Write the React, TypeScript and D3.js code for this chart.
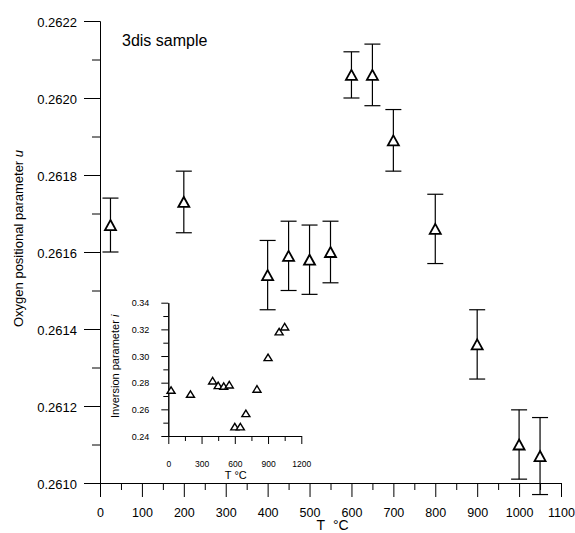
import React, { useEffect, useRef } from 'react'
import * as d3 from 'd3'

// main panel: oxygen positional parameter u vs annealing temperature
const temps = [25, 200, 400, 450, 500, 550, 600, 650, 700, 800, 900, 1000, 1050]
const uValues = [0.26167, 0.26173, 0.26154, 0.26159, 0.26158, 0.2616, 0.26206, 0.26206, 0.26189, 0.26166, 0.26136, 0.2611, 0.26107]
const uErrors = [0.00007, 0.00008, 0.00009, 0.00009, 0.00009, 0.00008, 0.00006, 0.00008, 0.00008, 0.00009, 0.00009, 0.00009, 0.0001]

const xTicks = [0, 100, 200, 300, 400, 500, 600, 700, 800, 900, 1000, 1100]
const yTicks = [0.261, 0.2612, 0.2614, 0.2616, 0.2618, 0.262, 0.2622]

// inset: inversion parameter i
const insetTemps = [25, 200, 400, 450, 500, 550, 600, 650, 700, 800, 900, 1000, 1050]
const insetValues = [0.2745, 0.2715, 0.2815, 0.278, 0.2775, 0.2785, 0.247, 0.247, 0.257, 0.2753, 0.299, 0.3183, 0.322]
const insetXTicks = [0, 300, 600, 900, 1200]
const insetYTicks = [0.24, 0.26, 0.28, 0.3, 0.32, 0.34]

const font = 'Liberation Sans, Arial, sans-serif'

function tri(w: number, h: number) {
    return `M0,${-h / 2}L${w / 2},${h / 2}L${-w / 2},${h / 2}Z`
}

function App() {
    const svgRef = useRef<SVGSVGElement>(null)
    const width = 575
    const height = 533

    useEffect(() => {
        const svg = d3.select(svgRef.current)
        svg.selectAll('*').remove()

        const x = d3.scaleLinear().domain([0, 1100]).range([100, 561])
        const y = d3.scaleLinear().domain([0.261, 0.2622]).range([483, 21])

        // x axis
        svg.append('g')
            .attr('transform', `translate(0, ${y(0.261)})`)
            .call(d3.axisBottom(x).tickValues(d3.range(50, 1100, 100)).tickSize(7).tickFormat(() => '').tickSizeOuter(0))
        const gx = svg.append('g')
            .attr('transform', `translate(0, ${y(0.261)})`)
            .call(d3.axisBottom(x).tickValues(xTicks).tickSize(14).tickSizeOuter(0).tickFormat(d3.format('d')))
        gx.selectAll('text').attr('y', 34).attr('dy', 0).attr('font-size', 12.5)

        // y axis
        svg.append('g')
            .attr('transform', `translate(${x(0)}, 0)`)
            .call(d3.axisLeft(y).tickValues(d3.range(0.2611, 0.2622, 0.0002)).tickSize(8).tickFormat(() => '').tickSizeOuter(0))
        const gy = svg.append('g')
            .attr('transform', `translate(${x(0)}, 0)`)
            .call(d3.axisLeft(y).tickValues(yTicks).tickSize(16).tickSizeOuter(0).tickFormat(d3.format('.4f')))
        gy.selectAll('text').attr('x', -23).attr('dy', '0.42em').attr('font-size', 13)

        svg.selectAll('.domain').attr('stroke', '#000')
        svg.selectAll('.tick line').attr('stroke', '#000')
        svg.selectAll('.tick text').attr('font-family', font).attr('fill', '#000')

        svg.append('text')
            .attr('x', x(555))
            .attr('y', 530)
            .attr('text-anchor', 'middle')
            .attr('font-family', font)
            .attr('font-size', 14)
            .text('T\u00A0\u00A0°C')

        const yTitle = svg.append('text')
            .attr('transform', 'translate(22.5, 327) rotate(-90)')
            .attr('font-family', font)
            .attr('font-size', 13)
        yTitle.append('tspan').text('Oxygen positional parameter\u00A0')
        yTitle.append('tspan').attr('font-style', 'italic').text('u')

        svg.append('text')
            .attr('x', 122)
            .attr('y', 46)
            .attr('font-family', font)
            .attr('font-size', 16)
            .text('3dis sample')

        // error bars
        const pts = temps.map((t, i) => ({ t, u: uValues[i], e: uErrors[i] }))
        const eb = svg.append('g').attr('stroke', '#000').attr('stroke-width', 1.2)
            .selectAll('g').data(pts).join('g')
        eb.append('line')
            .attr('x1', d => x(d.t)).attr('x2', d => x(d.t))
            .attr('y1', d => y(d.u - d.e)).attr('y2', d => y(d.u + d.e))
        eb.append('line')
            .attr('x1', d => x(d.t) - 8).attr('x2', d => x(d.t) + 8)
            .attr('y1', d => y(d.u + d.e)).attr('y2', d => y(d.u + d.e))
        eb.append('line')
            .attr('x1', d => x(d.t) - 8).attr('x2', d => x(d.t) + 8)
            .attr('y1', d => y(d.u - d.e)).attr('y2', d => y(d.u - d.e))

        svg.append('g').selectAll('path').data(pts).join('path')
            .attr('d', tri(11, 10))
            .attr('transform', d => `translate(${x(d.t)}, ${y(d.u)})`)
            .attr('fill', '#fff')
            .attr('stroke', '#000')
            .attr('stroke-width', 1.8)

        // inset
        const ix = d3.scaleLinear().domain([0, 1200]).range([168.3, 301.3])
        const iy = d3.scaleLinear().domain([0.24, 0.34]).range([436, 302.7])
        const inset = svg.append('g')

        inset.append('g')
            .attr('transform', `translate(0, ${iy(0.24)})`)
            .call(d3.axisBottom(ix).tickValues(d3.range(150, 1200, 300)).tickSize(5).tickFormat(() => '').tickSizeOuter(0))
        const igx = inset.append('g')
            .attr('transform', `translate(0, ${iy(0.24)})`)
            .call(d3.axisBottom(ix).tickValues(insetXTicks).tickSize(8).tickSizeOuter(0).tickFormat(d3.format('d')))
        igx.selectAll('text').attr('y', 30.7).attr('dy', 0).attr('font-size', 8.5)

        inset.append('g')
            .attr('transform', `translate(${ix(0)}, 0)`)
            .call(d3.axisLeft(iy).tickValues(d3.range(0.25, 0.34, 0.02)).tickSize(5).tickFormat(() => '').tickSizeOuter(0))
        const igy = inset.append('g')
            .attr('transform', `translate(${ix(0)}, 0)`)
            .call(d3.axisLeft(iy).tickValues(insetYTicks).tickSize(7).tickSizeOuter(0).tickFormat(d3.format('.2f')))
        igy.selectAll('text').attr('x', -19).attr('dy', '0.35em').attr('font-size', 9)

        inset.selectAll('.domain').attr('stroke', '#000')
        inset.selectAll('.tick line').attr('stroke', '#000')
        inset.selectAll('.tick text').attr('font-family', font).attr('fill', '#000')

        inset.append('text')
            .attr('x', ix(600) + 1)
            .attr('y', 479)
            .attr('text-anchor', 'middle')
            .attr('font-family', font)
            .attr('font-size', 11)
            .text('T °C')

        const iyTitle = inset.append('text')
            .attr('transform', 'translate(119, 418) rotate(-90)')
            .attr('font-family', font)
            .attr('font-size', 11)
        iyTitle.append('tspan').text('Inversion parameter\u00A0')
        iyTitle.append('tspan').attr('font-style', 'italic').text('i')

        inset.append('g').selectAll('path')
            .data(insetTemps.map((t, i) => ({ t, v: insetValues[i] })))
            .join('path')
            .attr('d', tri(8, 6.5))
            .attr('transform', d => `translate(${ix(d.t)}, ${iy(d.v)})`)
            .attr('fill', '#fff')
            .attr('stroke', '#000')
            .attr('stroke-width', 1.4)
    }, [])

    return (
        <svg
            ref={svgRef}
            width={width}
            height={height}
            style={{ position: 'absolute', left: 0, top: 0, background: '#fff' }}
        ></svg>
    )
}

export default App
